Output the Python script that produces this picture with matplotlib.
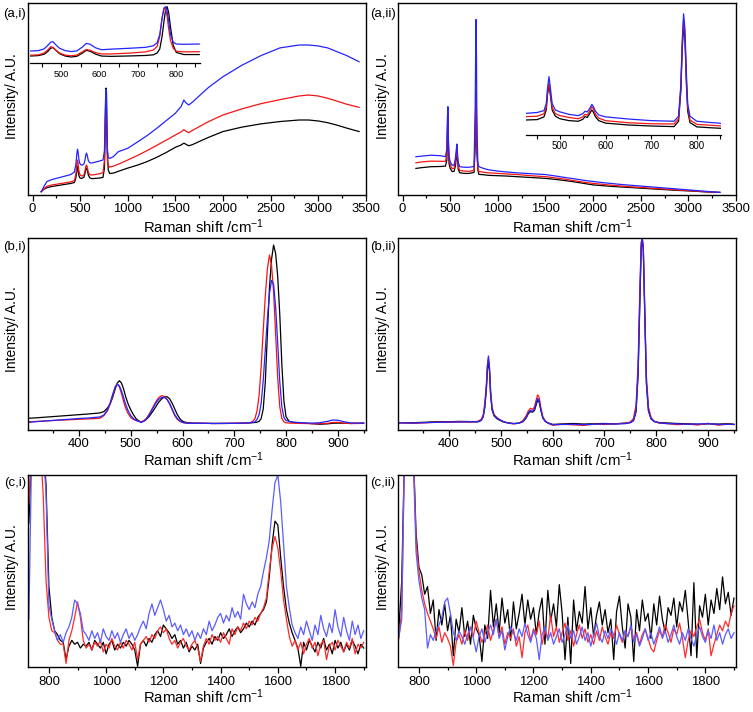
import numpy as np
import matplotlib
matplotlib.use('Agg')
import matplotlib.pyplot as plt
from matplotlib.ticker import MultipleLocator

plt.rcParams['font.family'] = ['Liberation Sans', 'DejaVu Sans']
plt.rcParams['mathtext.fontset'] = 'custom'
plt.rcParams['mathtext.rm'] = 'Liberation Sans'
plt.rcParams['mathtext.it'] = 'Liberation Sans:italic'
plt.rcParams['mathtext.bf'] = 'Liberation Sans:bold'

# ---------------- data (intensity in % of panel height) ----------------
# (a,i) main
ai_x = [90, 120, 150, 200, 300, 400, 440, 455, 465, 472, 478, 485, 495, 510, 525,
        540, 550, 560, 567, 575, 585, 600, 620, 650, 700, 740, 755, 762, 768, 772,
        776, 780, 786, 795, 810, 850, 900, 1000, 1100, 1200, 1300, 1400, 1500, 1560, 1590,
        1610, 1640, 1680, 1750, 1850, 2000, 2200, 2400, 2600, 2800, 2900, 3000, 3100, 3200, 3300,
        3430]
ai_black = [1.7, 3.0, 3.8, 4.4, 5.2, 6.0, 6.5, 9, 12.5, 14.7, 13, 10.5, 9.0, 8.6, 8.8,
            9.3, 11, 13.5, 14, 13, 10.5, 9.0, 8.5, 8.6, 8.8, 9.2, 14, 30, 48, 55.6,
            54, 40, 22, 13, 11.2, 11.4, 12.3, 14, 15.5, 17.3, 19.5, 22, 24.8, 26, 27,
            26.4, 25.6, 26.2, 27.8, 30, 33, 35.3, 37, 38.2, 39, 39, 38.5, 37.6, 36.3, 34.8,
            33]
ai_red = [1.7, 3.3, 4.5, 5.2, 6.0, 6.8, 7.5, 11, 16, 18.2, 16.5, 13, 10.8, 10.0, 9.9,
          10.6, 12.5, 15, 15.6, 14.5, 12, 10.6, 10.4, 10.6, 11.0, 11.6, 18, 35, 51, 50,
          42, 28, 18, 15.5, 14.5, 15, 16, 18.2, 20.5, 23, 25.7, 28.4, 31.2, 32.8, 34,
          33.2, 32.4, 33.6, 35.5, 38.2, 41.6, 44.8, 47.5, 49.6, 51.5, 52, 51.5, 50.3, 48.8, 47.2,
          45.6]
ai_blue = [1.7, 4.5, 7.0, 8.0, 9.3, 10.6, 12, 16, 21.5, 23.8, 22.5, 19, 16.5, 15.6, 15.6,
           16.2, 18, 21, 21.8, 20.5, 18, 16.8, 16.6, 17.0, 17.6, 18.2, 23, 38, 52, 55,
           52, 36, 24, 19.5, 19, 20, 22.5, 24.3, 27.5, 30.8, 34.5, 38.5, 42.5, 46, 49.4,
           48, 46.8, 48.3, 51.5, 56, 61.5, 67.5, 72.5, 76.5, 78, 78, 77.5, 76.5, 74.5, 72.5,
           69.3]

# (a,i) inset
ai_in_x = [420, 440, 455, 465, 472, 478, 485, 495, 510, 525, 540, 555, 565, 575, 590, 605,
           630, 680, 720, 740, 750, 757, 763, 768, 772, 776, 780, 785, 792, 800, 820, 860]
ai_in_black = [12.1, 12.8, 15, 20, 25, 25.9, 22, 16, 12, 10.5, 11.5, 17, 21.5, 20, 15, 12,
               11.5, 12.2, 13, 14, 17, 24, 45, 70, 88, 94, 85, 60, 30, 18, 14.5, 14.5]
ai_in_red = [13.5, 14, 17, 22.5, 27.5, 26.5, 22, 17, 13.5, 12.5, 13.5, 19, 23, 21.5, 17.5, 15.5,
             15.5, 17, 19, 22, 28, 45, 75, 92, 90, 78, 58, 38, 25, 20, 19, 19.2]
ai_in_blue = [20.4, 21, 24, 30, 35, 35.8, 31, 25, 21, 19.5, 20.5, 27, 33, 31.5, 25.5, 22.5,
              23.5, 25, 26.5, 29, 34, 48, 75, 91, 94, 88, 70, 48, 35, 32, 31.5, 32]

# (a,ii) main
aii_x = [140, 200, 300, 400, 450, 465, 472, 476, 480, 488,
         500, 520, 540, 555, 565, 570, 575, 585, 600, 650,
         700, 750, 762, 768, 772, 776, 780, 790, 800, 850,
         900, 1000, 1100, 1200, 1300, 1400, 1500, 1600, 1700, 1800,
         1900, 2000, 2100, 2200, 2300, 2400, 2500, 2600, 2700, 2800,
         2900, 3000, 3100, 3200, 3330]
aii_black = [13.6, 14.0, 14.5, 14.6, 14.8, 18, 35, 40, 25, 16,
             13.5, 12, 12, 15, 20, 23, 19, 13, 11.3, 11,
             11, 11.5, 25, 45, 50, 40, 22, 13, 10.5, 10.3,
             10, 9.8, 9.6, 9.3, 9.0, 8.7, 8.4, 7.9, 7.3, 6.6,
             5.8, 5.0, 4.6, 4.2, 3.9, 3.6, 3.3, 3.0, 2.7, 2.4,
             2.1, 1.9, 1.6, 1.3, 1.1]
aii_red = [16.5, 17, 17.4, 17.3, 17.3, 21, 40, 43, 28, 18.5,
           15.5, 13.5, 13.6, 17, 22, 24.5, 20, 14.5, 12.5, 12.2,
           12.1, 12.5, 30, 50, 54.5, 42, 24, 14, 12, 11.6,
           11.3, 11.0, 10.7, 10.4, 10.0, 9.6, 9.3, 8.7, 8.0, 7.2,
           6.4, 5.8, 5.3, 4.8, 4.4, 4.0, 3.7, 3.3, 3.0, 2.7,
           2.3, 2.0, 1.7, 1.4, 1.1]
aii_blue = [19.7, 20, 20.5, 20.2, 19.7, 24, 42, 45.8, 30, 20,
            17, 15.3, 15.2, 19, 24, 26.3, 22, 16.5, 14.5, 14.2,
            14.2, 14.6, 45, 80, 91.3, 70, 35, 17, 14.5, 13.6,
            12.9, 12.2, 11.7, 11.3, 11.0, 10.7, 10.4, 9.7, 8.9, 8.2,
            7.4, 6.8, 6.2, 5.7, 5.2, 4.8, 4.4, 4.0, 3.6, 3.2,
            2.8, 2.4, 2.0, 1.6, 1.1]

# (a,ii) inset
aii_in_x = [425, 450, 465, 470, 473, 476, 479, 483, 490, 500,
            520, 540, 550, 555, 560, 565, 570, 573, 578, 585,
            600, 650, 700, 750, 760, 765, 768, 771, 774, 777,
            780, 785, 800, 830, 855]
aii_in_blue = [17.3, 18, 19.5, 25, 38, 46.7, 38, 25, 20, 18.5,
               16.5, 15.5, 17, 19, 18.5, 21, 24.5, 23, 19, 16,
               14.5, 12.8, 11.5, 11, 15, 40, 75, 97, 85, 50,
               25, 15, 11, 10, 9.3]
aii_in_red = [14.7, 15, 17, 22, 35, 41, 34, 22, 17, 15.5,
              14, 13, 14.5, 16.5, 16, 19, 22.7, 21, 16.5, 13.5,
              11.5, 9.8, 9.0, 8.8, 13, 38, 72, 92, 80, 46,
              22, 12, 8.5, 7.8, 7.2]
aii_in_black = [12, 12.3, 14.5, 20, 33, 40, 32, 20, 15, 13,
                11.5, 11, 12.5, 14.7, 14, 17, 20, 18.5, 14.5, 11.5,
                9.5, 8, 7.2, 6.7, 11, 35, 68, 88, 76, 42,
                19, 10, 6.5, 5.8, 5.3]

# (b,i)
bi_x = [302, 320, 340, 360, 380, 400, 420, 440, 448, 455, 460, 465, 470, 474, 478,
        482, 486, 490, 495, 500, 505, 510, 515, 520, 525, 530, 536, 542, 548, 554,
        560, 565, 570, 575, 580, 585, 590, 596, 602, 610, 620, 640, 660, 680, 700,
        720, 730, 736, 740, 744, 748, 752, 756, 760, 764, 768, 772, 776, 780, 784,
        788, 792, 796, 800, 806, 812, 820, 835, 850, 865, 880, 890, 900, 910, 925,
        940, 950]
bi_black = [6.1, 6.4, 6.8, 7.2, 7.6, 8.0, 8.4, 8.9, 9.6, 11.5, 13.5, 17, 21.5, 24.5, 25.7,
            24.5, 21.5, 17.5, 13.5, 10.5, 8, 6, 4.8, 4.2, 4.6, 5.5, 7.2, 9.5, 12, 14.5,
            16.3, 17.2, 17.4, 16.3, 14, 11, 8, 5.5, 4.3, 3.8, 3.6, 3.5, 3.4, 3.5, 3.5,
            3.6, 3.7, 3.8, 3.9, 4.1, 4.5, 6, 11, 25, 50, 74, 89, 96.5, 92, 80,
            60, 34, 15, 7, 4.5, 4.0, 3.8, 3.6, 3.3, 3.0, 3.2, 3.5, 3.6, 3.5, 3.4,
            3.5, 3.6]
bi_red = [4.3, 4.5, 4.8, 5.1, 5.3, 5.6, 5.8, 6.1, 7.5, 10, 13.5, 18, 22.5, 24, 22.5,
          19, 15, 11.5, 8.5, 6.5, 5.5, 5, 4.6, 4.3, 4.8, 6, 8.5, 11.5, 14.5, 17,
          17.9, 17.5, 16, 13.5, 10.5, 7.5, 5.5, 4.3, 3.8, 3.6, 3.5, 3.5, 3.4, 3.4, 3.5,
          3.6, 3.8, 4.5, 6, 10, 18, 33, 52, 70, 84, 91.3, 86, 72, 50, 27,
          12, 6, 4.2, 3.8, 3.6, 3.6, 3.5, 3.4, 3.3, 3.3, 3.5, 3.9, 4.0, 3.6, 3.4,
          3.4, 3.5]
bi_blue = [4.0, 4.4, 4.8, 5.2, 5.6, 6.0, 6.3, 6.8, 7.8, 10.5, 14, 18.5, 22.5, 24, 23,
           20.5, 17, 13.5, 10, 7.5, 6, 5, 4.5, 4.0, 4.5, 5.8, 8, 11, 13.8, 16,
           17, 17, 16, 14, 11, 8, 6, 4.5, 3.8, 3.5, 3.5, 3.5, 3.4, 3.4, 3.5,
           3.6, 3.8, 4.0, 4.2, 5.5, 8, 14, 26, 42, 58, 71, 78, 76, 64, 45,
           25, 12, 6.5, 5, 4.5, 4.2, 4.0, 3.7, 3.6, 3.8, 4.5, 5.2, 5.1, 4.4, 3.7,
           3.6, 3.5]

# (b,ii)
bii_x = [302, 330, 360, 380, 400, 420, 440, 455, 462, 466, 469, 472, 474, 476, 478,
         480, 483, 487, 492, 497, 505, 515, 525, 535, 543, 549, 553, 557, 561, 565,
         568, 571, 574, 577, 581, 586, 592, 600, 620, 640, 660, 680, 700, 720, 740,
         750, 756, 761, 765, 768, 771, 773, 775, 778, 781, 785, 790, 796, 805, 820,
         840, 860, 880, 900, 920, 940, 950]
bii_blue = [3.8, 3.6, 3.9, 4.0, 4.2, 4.1, 4.3, 4.3, 5, 7, 12, 22, 33, 38.6, 32,
            20, 11, 7.5, 6.3, 5.5, 4.3, 3.6, 3.3, 3.5, 4.5, 6.5, 9, 10.2, 9.8, 10.8,
            14, 16.5, 15.5, 11, 6.5, 4.5, 3.5, 2.8, 2.9, 3.0, 2.8, 3.0, 3.2, 3.1, 3.3,
            3.8, 5, 10, 30, 65, 97, 100, 95, 60, 25, 10, 6, 4.5, 3.8, 3.3,
            3.2, 3.0, 3.1, 3.3, 2.9, 3.0, 2.9]
bii_red = [3.9, 3.5, 3.8, 4.2, 4.0, 4.3, 4.1, 4.5, 5.5, 8, 14, 24, 34, 37.5, 33,
           22, 12, 8, 6.6, 5.6, 4.4, 3.5, 3.2, 3.6, 5, 7.5, 10, 11.3, 10.8, 12,
           15.5, 18.3, 17, 12, 7, 4.6, 3.4, 2.5, 3.0, 2.7, 2.4, 3.1, 2.9, 3.2, 3.5,
           4.2, 6, 13, 35, 70, 98, 100, 96, 62, 28, 12, 6.5, 4.6, 3.6, 3.4,
           2.8, 3.1, 2.6, 3.5, 2.5, 3.1, 2.8]
bii_black = [3.7, 3.8, 4.1, 4.4, 4.3, 4.5, 4.4, 4.2, 5, 7, 12, 21, 31, 36, 31,
             19, 10.5, 7.3, 6.0, 5.2, 4.2, 3.7, 3.4, 3.6, 4.4, 6.3, 8.5, 9.6, 9.3, 10.2,
             13, 15.5, 14.5, 10.5, 6.2, 4.4, 3.6, 2.9, 3.2, 3.4, 3.1, 3.3, 3.4, 3.2, 3.6,
             3.9, 4.8, 9.5, 29, 62, 95, 99, 94, 58, 24, 10, 5.8, 4.4, 3.9, 3.7,
             3.4, 3.3, 3.0, 3.2, 3.1, 3.3, 3.0]

# (c) panels: spectra sampled every 10 cm-1 starting at 730 cm-1
C_START, C_STEP = 730, 10
ci_black = [75, 115, 115, 115, 115, 115, 95, 42, 26, 19,
            17, 14, 13, 4, 11, 14, 12, 13, 10, 12,
            11, 13, 9, 14, 12, 10, 13, 7, 12, 14,
            9, 12, 10, 13, 11, 14, 12, 9, 0.5, 12,
            14, 11, 15, 13, 17, 19, 16, 22, 20, 18,
            15, 17, 12, 14, 10, 13, 8, 11, 9, 12,
            2, 10, 13, 15, 12, 16, 14, 18, 15, 17,
            20, 16, 19, 21, 18, 20, 23, 21, 24, 22,
            26, 28, 30, 34, 47, 64, 76, 74, 57, 42,
            30, 23, 18, 14, 10, 0.5, 13, 9, 14, 11,
            8, 13, 10, 15, 9, 12, 7, 14, 10, 13,
            8, 12, 9, 14, 11, 7, 12, 10]
ci_red = [85, 115, 115, 115, 115, 90, 45, 26, 19, 18,
          14, 12, 12, 2, 14, 19, 26, 34, 26, 14,
          10, 12, 9, 13, 11, 14, 8, 12, 10, 15,
          11, 9, 13, 10, 14, 12, 9, 13, 4, 12,
          14, 16, 13, 17, 15, 19, 21, 18, 20, 15,
          12, 14, 10, 13, 15, 11, 9, 12, 14, 10,
          3, 11, 15, 12, 17, 14, 16, 13, 18, 15,
          12, 20, 17, 21, 19, 23, 20, 24, 22, 26,
          24, 28, 31, 36, 50, 62, 68, 62, 50, 35,
          25, 16, 11, 14, 9, 13, 7, 12, 15, 10,
          13, 6, 12, 14, 4, 11, 13, 9, 14, 11,
          8, 13, 10, 15, 7, 12, 10, 13]
ci_blue = [25, 115, 115, 115, 115, 115, 90, 32, 25, 19,
           14, 17, 13, 18, 21, 26, 35, 33, 28, 19,
           17, 14, 19, 15, 18, 13, 20, 16, 14, 19,
           15, 18, 13, 17, 20, 15, 18, 14, 17, 21,
           24, 20, 28, 33, 27, 31, 35, 30, 24, 27,
           21, 23, 19, 22, 17, 20, 16, 19, 14, 18,
           15, 20, 17, 24, 19, 22, 26, 28, 23, 27,
           24, 31, 26, 29, 25, 38, 33, 30, 34, 31,
           38, 42, 50, 57, 66, 82, 96, 100, 86, 64,
           42, 31, 22, 18, 15, 21, 17, 24, 19, 14,
           22, 17, 27, 20, 16, 23, 18, 30, 21, 16,
           26, 19, 14, 24, 17, 22, 15, 19]
cii_black = [20, 45, 115, 115, 115, 115, 70, 52, 48, 38,
             42, 28, 35, 14, 30, 22, 33, 19, 27, 6,
             25, 18, 31, 16, 24, 12, 27, 20, 17, 3,
             22, 15, 40, 21, 33, 18, 36, 23, 30, 14,
             34, 20, 28, 38, 22, 35, 25, 31, 17, 29,
             36, 12, 40, 24, 33, 21, 43, 28, 4, 26,
             2, 35, 19, 29, 23, 42, 20, 31, 16, 27,
             34, 22, 30, 18, 25, 4, 29, 37, 21, 10,
             33, 26, 3, 30, 19, 35, 24, 28, 15, 33,
             22, 37, 25, 18, 31, 27, 36, 21, 34, 29,
             40, 24, 6, 44, 5, 32, 26, 38, 22, 35,
             28, 41, 30, 47, 33, 39, 27, 36]
cii_red = [15, 30, 115, 115, 115, 115, 66, 50, 40, 33,
           28, 24, 20, 15, 21, 13, 18, 15, 11, 1,
           13, 17, 12, 19, 14, 21, 16, 24, 18, 13,
           17, 22, 14, 19, 25, 16, 21, 12, 18, 15,
           20, 11, 16, 5, 18, 22, 14, 20, 17, 24,
           12, 19, 15, 27, 16, 21, 13, 18, 23, 14,
           19, 11, 17, 22, 15, 20, 13, 17, 12, 19,
           14, 21, 16, 12, 18, 15, 22, 17, 13, 19,
           16, 21, 14, 18, 12, 17, 20, 15, 10, 8,
           14, 19, 16, 22, 18, 13, 20, 17, 23, 15,
           5, 14, 19, 16, 21, 25, 18, 14, 20, 6,
           12, 17, 22, 19, 24, 21, 28, 32]
cii_blue = [16, 25, 115, 115, 115, 110, 60, 45, 36, 30,
            10, 17, 14, 19, 22, 26, 34, 36, 28, 18,
            14, 19, 16, 12, 17, 21, 15, 8, 16, 20,
            13, 18, 22, 17, 25, 15, 19, 9, 16, 21,
            18, 14, 20, 16, 23, 17, 13, 19, 15, 4,
            17, 21, 14, 18, 12, 16, 20, 13, 17, 22,
            15, 19, 12, 16, 21, 14, 18, 11, 17, 23,
            16, 13, 19, 15, 20, 17, 12, 18, 14, 19,
            16, 22, 13, 17, 11, 15, 20, 14, 18, 12,
            16, 21, 15, 19, 13, 17, 22, 16, 12, 18,
            14, 20, 15, 11, 17, 21, 16, 13, 19, 15,
            22, 14, 18, 12, 17, 20, 15, 18]

AXIS_LABEL_Y = 'Intensity/ A.U.'
AXIS_LABEL_X = 'Raman shift /cm$^{-1}$'

# ---------------- figure ----------------
W, H = 753, 712
fig = plt.figure(figsize=(W / 100, H / 100), dpi=100)


def px_axes(l, r, t, b):
    return fig.add_axes([l / W, 1 - b / H, (r - l) / W, (b - t) / H])


BLACK = '#000000'
RED = '#f41414'
BLUE = '#2424ff'
RED_C = '#ff2a2a'
BLUE_C = '#5c5cff'


def style(ax, xlim, major, minor):
    ax.set_xlim(*xlim)
    ax.set_ylim(0, 100)
    ax.set_yticks([])
    ax.xaxis.set_major_locator(MultipleLocator(major))
    ax.xaxis.set_minor_locator(MultipleLocator(minor))
    ax.tick_params(axis='x', which='major', direction='out', length=4, width=0.9,
                   labelsize=9.4, pad=2)
    ax.tick_params(axis='x', which='minor', direction='out', length=2.5, width=0.9)
    for s in ax.spines.values():
        s.set_linewidth(1.0)


def style_inset(ax, xlim, ylim, fs):
    ax.set_xlim(*xlim)
    ax.set_ylim(*ylim)
    ax.patch.set_visible(False)
    for k in ('top', 'left', 'right'):
        ax.spines[k].set_visible(False)
    ax.spines['bottom'].set_linewidth(0.9)
    ax.set_yticks([])
    ax.xaxis.set_major_locator(MultipleLocator(100))
    ax.xaxis.set_minor_locator(MultipleLocator(50))
    ax.tick_params(axis='x', which='major', direction='out', length=3, width=0.8,
                   labelsize=fs, pad=1.5)
    ax.tick_params(axis='x', which='minor', direction='out', length=3, width=0.8)


LW = 0.9

# (a,i)
ax = px_axes(28.3, 365.7, 2.7, 195)
style(ax, (-45, 3500), 500, 250)
ax.plot(ai_x, ai_black, color=BLACK, lw=LW)
ax.plot(ai_x, ai_red, color=RED, lw=LW)
ax.plot(ai_x, ai_blue, color=BLUE, lw=LW)
ins = px_axes(30, 200, 3, 63.3)
style_inset(ins, (418, 862), (0, 100), 6.6)
ins.plot(ai_in_x, ai_in_black, color=BLACK, lw=LW)
ins.plot(ai_in_x, ai_in_red, color=RED, lw=LW)
ins.plot(ai_in_x, ai_in_blue, color=BLUE, lw=LW)

# (a,ii)
ax = px_axes(398.3, 736, 2.7, 194.5)
style(ax, (-45, 3500), 500, 250)
ax.plot(aii_x, aii_black, color=BLACK, lw=LW)
ax.plot(aii_x, aii_red, color=RED, lw=LW)
ax.plot(aii_x, aii_blue, color=BLUE, lw=LW)
ins = px_axes(525.7, 721, 10, 135)
style_inset(ins, (425, 853), (0, 100), 7)
ins.plot(aii_in_x, aii_in_black, color=BLACK, lw=LW)
ins.plot(aii_in_x, aii_in_red, color=RED, lw=LW)
ins.plot(aii_in_x, aii_in_blue, color=BLUE, lw=LW)

# (b,i)
ax = px_axes(28.3, 365.7, 238.3, 430)
style(ax, (302, 954), 100, 50)
ax.plot(bi_x, bi_black, color=BLACK, lw=LW)
ax.plot(bi_x, bi_red, color=RED, lw=LW)
ax.plot(bi_x, bi_blue, color=BLUE, lw=LW)

# (b,ii)
ax = px_axes(398.3, 736, 238.3, 430)
style(ax, (302, 954), 100, 50)
ax.plot(bii_x, bii_black, color=BLACK, lw=LW)
ax.plot(bii_x, bii_red, color=RED, lw=LW)
ax.plot(bii_x, bii_blue, color=BLUE, lw=LW)

# (c,i)
ax = px_axes(28.3, 365.7, 475, 667.3)
style(ax, (728, 1907), 200, 100)
for ys, c in ((ci_black, BLACK), (ci_red, RED_C), (ci_blue, BLUE_C)):
    xs = C_START + C_STEP * np.arange(len(ys))
    ax.plot(xs, ys, color=c, lw=LW)

# (c,ii)
ax = px_axes(398.3, 736, 475, 667.3)
style(ax, (728, 1907), 200, 100)
for ys, c in ((cii_black, BLACK), (cii_red, RED_C), (cii_blue, BLUE_C)):
    xs = C_START + C_STEP * np.arange(len(ys))
    ax.plot(xs, ys, color=c, lw=LW)

# texts
panel_labels = [('(a,i)', 14.7, 14), ('(a,ii)', 383, 14),
                ('(b,i)', 14.7, 247), ('(b,ii)', 383, 247),
                ('(c,i)', 15.5, 483), ('(c,ii)', 383, 483)]
for t, x, y in panel_labels:
    fig.text(x / W, 1 - y / H, t, ha='center', va='center', fontsize=9.5)

for x in (12.5, 382.5):
    for yc in (96, 329, 567):
        fig.text(x / W, 1 - yc / H, AXIS_LABEL_Y, rotation=90, ha='center',
                 va='center', fontsize=10)

for x in (203.5, 573):
    for yc in (227, 460, 696.5):
        fig.text(x / W, 1 - yc / H, AXIS_LABEL_X, ha='center', va='center',
                 fontsize=10.7)

fig.savefig('out.png', dpi=100)
